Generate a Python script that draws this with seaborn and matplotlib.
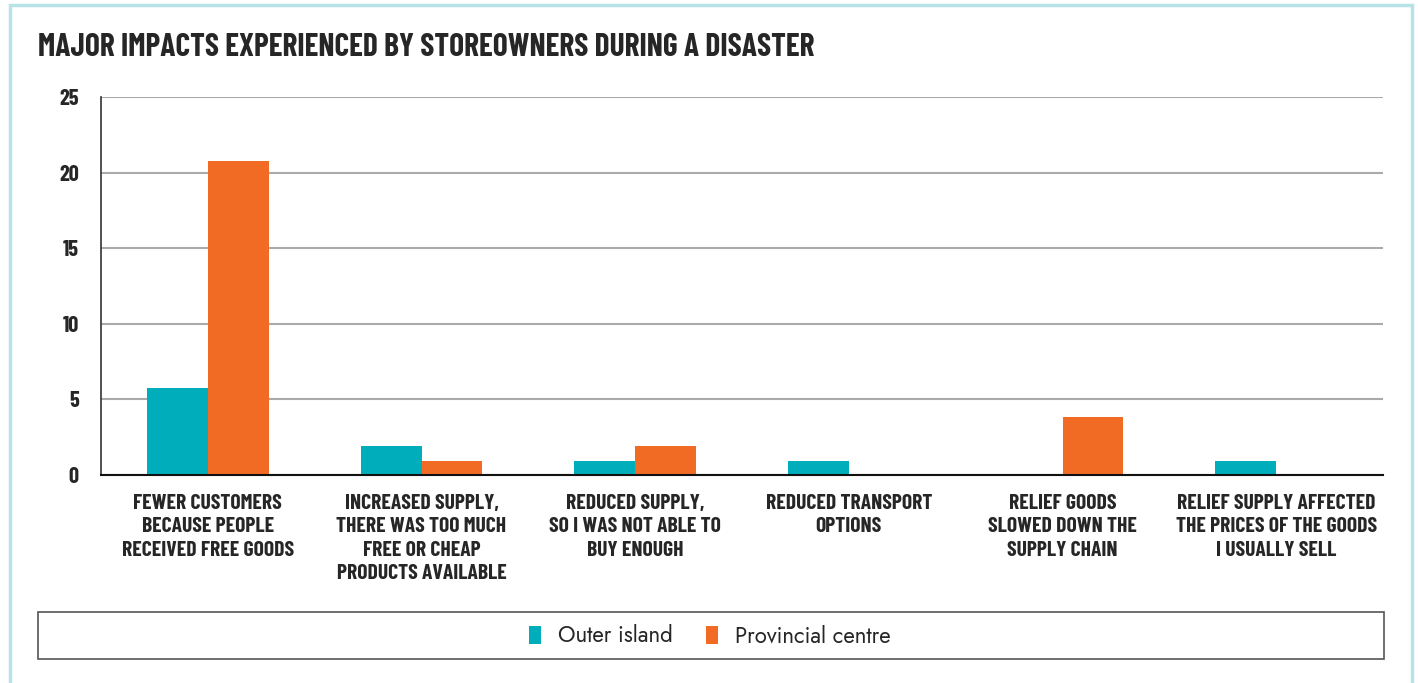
import pandas as pd
import matplotlib.pyplot as plt
import seaborn as sns
from matplotlib.patches import Rectangle, Patch

# Data
categories = [
    'FEWER CUSTOMERS\nBECAUSE PEOPLE\nRECEIVED FREE GOODS',
    'INCREASED SUPPLY,\nTHERE WAS TOO MUCH\nFREE OR CHEAP\nPRODUCTS AVAILABLE',
    'REDUCED SUPPLY,\nSO I WAS NOT ABLE TO\nBUY ENOUGH',
    'REDUCED TRANSPORT\nOPTIONS',
    'RELIEF GOODS\nSLOWED DOWN THE\nSUPPLY CHAIN',
    'RELIEF SUPPLY AFFECTED\nTHE PRICES OF THE GOODS\nI USUALLY SELL',
]
outer_island = [5.75, 1.9, 0.95, 0.95, 0, 0.95]
provincial_centre = [20.8, 0.95, 1.9, 0, 3.85, 0]
series_names = ['Outer island', 'Provincial centre']
colors = ['#00ADBB', '#F26B25']

df = pd.DataFrame({
    'category': categories * 2,
    'value': outer_island + provincial_centre,
    'series': [series_names[0]] * 6 + [series_names[1]] * 6,
})

sns.set_style('white')
plt.rcParams['font.family'] = ['DejaVu Sans']
cond = ['Barlow Condensed', 'DejaVu Sans']
legend_font = ['Jost', 'DejaVu Sans']

fig = plt.figure(figsize=(14.18, 6.83), dpi=100)
ax = fig.add_axes([101 / 1418, 1 - 475 / 683, 1282 / 1418, 378 / 683])

sns.barplot(data=df, x='category', y='value', hue='series', palette=colors,
            width=0.57, saturation=1, linewidth=0, ax=ax, legend=False)

ax.set_ylim(0, 25)
ax.set_xlim(-0.5, 5.5)
ax.set_yticks([0, 5, 10, 15, 20, 25])
ax.set_xlabel('')
ax.set_ylabel('')
ax.yaxis.grid(True, color='#AAAAAA', linewidth=1.5)
ax.set_axisbelow(True)
for s in ['top', 'right']:
    ax.spines[s].set_visible(False)
ax.spines['left'].set_color('#333333')
ax.spines['left'].set_linewidth(1.2)
ax.spines['bottom'].set_color('#111111')
ax.spines['bottom'].set_linewidth(1.5)
ax.tick_params(axis='both', length=0)
ax.tick_params(axis='y', pad=16)
ax.tick_params(axis='x', pad=14)
for lab in ax.get_yticklabels():
    lab.set_fontfamily(cond)
    lab.set_fontweight('bold')
    lab.set_fontsize(16)
for lab in ax.get_xticklabels():
    lab.set_fontfamily(cond)
    lab.set_fontweight('bold')
    lab.set_fontsize(15.5)
    lab.set_linespacing(1.27)
    lab.set_horizontalalignment('center')

fig.text(38 / 1418, 1 - 47 / 683, 'MAJOR IMPACTS EXPERIENCED BY STOREOWNERS DURING A DISASTER',
         fontfamily=cond, fontweight='bold', fontsize=22.7, va='center', ha='left')

# legend box
fig.patches.append(Rectangle((38 / 1418, 1 - 659 / 683), 1346 / 1418, 47 / 683,
                             transform=fig.transFigure, facecolor='white',
                             edgecolor='#555555', linewidth=1.2))
handles = [Patch(facecolor=c, edgecolor='none') for c in colors]
fig.legend(handles, series_names, loc='center', bbox_to_anchor=(710 / 1418, 1 - 636 / 683),
           ncol=2, frameon=False, prop={'family': legend_font, 'size': 16},
           handlelength=0.55, handleheight=0.85, handletextpad=0.75, columnspacing=1.5)

# light blue frame around the figure
fig.patches.append(Rectangle((10 / 1418, -0.05), 1402 / 1418, 1.05 - 5 / 683,
                             transform=fig.transFigure, facecolor='none',
                             edgecolor='#B7E2E8', linewidth=2.5))

plt.savefig('out.png', dpi=100)
